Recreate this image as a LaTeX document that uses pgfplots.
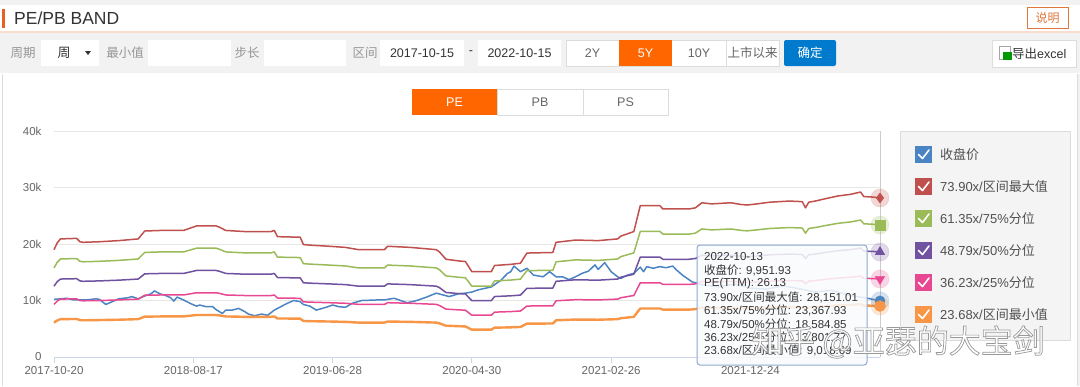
\documentclass[border=0pt]{standalone}
\usepackage{fontspec}
\setmainfont{Liberation Sans}
\newfontfamily\cjk{Noto Sans CJK SC}
\usepackage{pgfplots}
\pgfplotsset{compat=1.18}
\usepackage{pgfplotstable}
\definecolor{cBlue}{RGB}{74,132,194}
\definecolor{cRed}{RGB}{192,80,77}
\definecolor{cGreen}{RGB}{155,187,89}
\definecolor{cPurple}{RGB}{112,82,160}
\definecolor{cPink}{RGB}{232,72,145}
\definecolor{cOrange}{RGB}{247,150,70}
\definecolor{gridc}{RGB}{230,230,230}
\definecolor{axisc}{RGB}{204,214,235}
\definecolor{txt}{RGB}{51,51,51}
\definecolor{legtxt}{RGB}{80,80,80}
\definecolor{lbl}{RGB}{102,102,102}
\definecolor{uilbl}{RGB}{150,150,150}
\definecolor{uiorange}{RGB}{255,102,0}
\definecolor{uiblue}{RGB}{0,122,204}
\definecolor{uigray}{RGB}{242,242,242}
\definecolor{uiborder}{RGB}{220,220,220}
\definecolor{barorange}{RGB}{232,96,36}
\definecolor{explain}{RGB}{224,120,60}
\definecolor{headline}{RGB}{250,222,204}
\definecolor{leggray}{RGB}{244,244,244}
\definecolor{tipborder}{RGB}{140,170,210}
\newcommand{\fs}[1]{\fontsize{#1}{#1}\selectfont}
\newcommand{\legitem}[3]{%
  \fill[#2] (915,#1-8.5) rectangle (932,#1+8.5);
  \draw[white, line width=1.6pt, line cap=round, line join=round] (918.5,#1) -- (922.5,#1+4) -- (929,#1-4.5);
  \node[anchor=west, text=legtxt, font=\fs{13}, inner sep=0] at (940,#1) {#3};
}
\pgfplotstableread{
w M B75 B50 B25 Bmin
0 19.00 15.77 12.54 9.32 6.09
1 20.20 16.77 13.34 9.90 6.47
2 20.90 17.35 13.80 10.25 6.70
7 21.00 17.43 13.86 10.30 6.73
8 20.40 16.94 13.47 10.00 6.54
9 20.30 16.85 13.40 9.95 6.50
14 20.40 16.94 13.47 10.00 6.54
20 20.60 17.10 13.60 10.10 6.60
26 20.90 17.35 13.80 10.25 6.70
27 21.60 17.93 14.26 10.59 6.92
28 22.30 18.51 14.72 10.93 7.14
33 22.40 18.60 14.79 10.98 7.18
40 22.40 18.60 14.79 10.98 7.18
42 22.80 18.93 15.05 11.18 7.31
44 23.20 19.26 15.32 11.37 7.43
50 23.20 19.26 15.32 11.37 7.43
51 23.00 19.09 15.18 11.28 7.37
53 22.40 18.60 14.79 10.98 7.18
59 22.20 18.43 14.66 10.88 7.11
67 22.20 18.43 14.66 10.88 7.11
68 22.40 18.60 14.79 10.98 7.18
69 21.30 17.68 14.06 10.44 6.82
76 21.20 17.60 14.00 10.39 6.79
77 19.90 16.52 13.14 9.76 6.38
79 19.80 16.44 13.07 9.71 6.34
85 19.60 16.27 12.94 9.61 6.28
90 19.40 16.11 12.81 9.51 6.22
94 19.00 15.77 12.54 9.32 6.09
102 19.00 15.77 12.54 9.32 6.09
103 19.60 16.27 12.94 9.61 6.28
110 19.40 16.11 12.81 9.51 6.22
118 19.00 15.77 12.54 9.32 6.09
119 18.60 15.44 12.28 9.12 5.96
121 17.30 14.36 11.42 8.48 5.54
125 17.00 14.11 11.22 8.34 5.45
127 16.90 14.03 11.16 8.29 5.41
129 15.10 12.54 9.97 7.40 4.84
135 15.10 12.54 9.97 7.40 4.84
136 16.20 13.45 10.70 7.94 5.19
141 16.40 13.62 10.83 8.04 5.25
144 16.60 13.78 10.96 8.14 5.32
145 17.50 14.53 11.55 8.58 5.61
146 18.40 15.28 12.15 9.02 5.90
154 18.50 15.36 12.21 9.07 5.93
155 20.30 16.85 13.40 9.95 6.50
161 20.70 17.19 13.67 10.15 6.63
168 20.60 17.10 13.60 10.10 6.60
174 20.90 17.35 13.80 10.25 6.70
175 21.40 17.77 14.13 10.49 6.86
178 22.00 18.26 14.52 10.79 7.05
179 22.20 18.43 14.66 10.88 7.11
181 26.80 22.25 17.69 13.14 8.59
187 26.80 22.25 17.69 13.14 8.59
188 26.20 21.75 17.30 12.85 8.39
196 26.20 21.75 17.30 12.85 8.39
198 26.40 21.92 17.43 12.94 8.46
200 27.30 22.66 18.02 13.39 8.75
203 27.10 22.50 17.89 13.29 8.68
206 27.20 22.58 17.96 13.34 8.71
209 27.30 22.66 18.02 13.39 8.75
212 27.00 22.42 17.83 13.24 8.65
214 26.90 22.33 17.76 13.19 8.62
217 27.10 22.50 17.89 13.29 8.68
221 27.40 22.75 18.09 13.43 8.78
224 27.50 22.83 18.16 13.48 8.81
227 27.60 22.91 18.22 13.53 8.84
231 27.50 22.83 18.16 13.48 8.81
232 26.40 21.92 17.43 12.94 8.46
233 27.40 22.75 18.09 13.43 8.78
235 27.60 22.91 18.22 13.53 8.84
238 28.00 23.25 18.49 13.73 8.97
242 28.50 23.66 18.82 13.97 9.13
246 28.80 23.91 19.01 14.12 9.23
249 29.20 24.24 19.28 14.32 9.36
250 28.40 23.58 18.75 13.92 9.10
253 28.30 23.49 18.68 13.88 9.07
255 28.15 23.37 18.58 13.80 9.02
}\bands
\pgfplotstableread{
w P
0 10.2
2 10.3
4 10.4
6 10.1
10 10.1
13 10.3
14 10.2
16 9.3
18 9.8
20 10.3
23 10.5
24 10.7
26 10.3
28 10.8
30 11.2
31 11.7
33 11.1
34 11.0
36 10.5
37 9.9
38 10.6
40 10.1
42 9.5
44 9.0
45 9.2
47 8.9
49 8.9
50 8.4
52 7.7
53 8.3
55 8.3
57 8.6
59 8.0
60 7.6
62 7.3
64 7.6
66 7.4
68 8.3
70 8.9
72 9.5
74 10.0
76 9.8
77 9.3
79 9.0
81 8.3
84 8.8
86 9.2
88 8.9
90 8.8
92 9.5
95 10.0
100 10.1
102 10.1
105 10.4
109 9.6
112 10.0
115 10.6
118 11.3
120 11.0
122 10.7
125 11.2
127 11.3
129 11.5
131 11.9
135 12.4
138 13.6
140 14.8
141 15.1
142 16.1
144 15.1
146 15.7
148 14.5
151 14.2
153 15.1
155 14.2
157 14.2
159 13.7
161 14.2
163 14.8
165 15.2
167 16.3
168 15.5
170 16.7
172 15.1
174 14.2
175 13.9
177 14.5
179 14.8
181 15.9
182 15.1
183 16.0
185 15.7
187 16.0
189 15.8
191 16.1
192 15.5
194 14.5
196 13.7
197 13.3
200 12.8
205 12.4
210 12.9
215 12.2
220 12.0
225 12.6
230 12.1
235 11.5
240 11.8
245 11.0
249 10.6
252 10.3
255 9.95
}\closetab
\begin{document}
\begin{tikzpicture}
\begin{scope}[x=1pt,y=-1pt]
\useasboundingbox (0,0) rectangle (1080,386);
\fill[white] (0,0) rectangle (1080,386);
% header
\fill[uigray] (0,0) rectangle (1080,5);
\fill[barorange] (2,9) rectangle (5,27.5);
\node[anchor=west, text=txt, font=\fs{17.5}, inner sep=0] at (14,18) {PE/PB BAND};
\draw[explain, fill=white] (1027,7) rectangle (1068,28);
\node[text=explain, font=\cjk\fs{12}] at (1047.5,17.5) {说明};
\fill[headline] (0,31) rectangle (1080,33);
% toolbar
\fill[uigray] (0,33) rectangle (1080,73);
\node[text=uilbl, font=\cjk\fs{12.5}] at (23,53) {周期};
\fill[white] (41,40) rectangle (99,66);
\node[text=txt, font=\cjk\fs{13}] at (64,53) {周};
\fill[txt] (85,51) -- (91,51) -- (88,55) -- cycle;
\node[text=uilbl, font=\cjk\fs{12.5}] at (125,53) {最小值};
\fill[white] (148,40) rectangle (231,66);
\node[text=uilbl, font=\cjk\fs{12.5}] at (247,53) {步长};
\fill[white] (264,40) rectangle (346,66);
\node[text=uilbl, font=\cjk\fs{12.5}] at (365,53) {区间};
\fill[white] (380,40) rectangle (464,66);
\node[text=txt, font=\fs{12.5}] at (422,53) {2017-10-15};
\node[text=txt, font=\fs{12.5}] at (471,53) {-};
\fill[white] (478,40) rectangle (561,66);
\node[text=txt, font=\fs{12.5}] at (519.5,53) {2022-10-15};
\draw[uiborder, fill=white] (566,40) rectangle (779,66);
\fill[uiorange] (619,40) rectangle (672,66);
\draw[uiborder] (726,40) -- (726,66);
\node[text=lbl, font=\fs{12.5}] at (592.5,53) {2Y};
\node[text=white, font=\fs{12.5}] at (645.5,53) {5Y};
\node[text=lbl, font=\fs{12.5}] at (699,53) {10Y};
\node[text=lbl, font=\cjk\fs{12.5}] at (752.5,53) {上市以来};
\fill[uiblue, rounded corners=2pt] (784,40) rectangle (836,66);
\node[text=white, font=\cjk\fs{12.5}] at (810,53) {确定};
\draw[uiborder, fill=white] (992,40) rectangle (1076,67);
\draw[gray!70, fill=white] (999,46) rectangle (1010,59);
\fill[green!60!black] (1003,52) rectangle (1012,60);
\node[anchor=west, text=txt, inner sep=0] at (1012,53.5) {{\cjk\fs{12.5}导出}{\fs{12.5}excel}};
% chart area
\fill[white] (3,74) rectangle (1077,386);
\draw[uiborder] (2.5,74) -- (2.5,386);
\draw[uiborder] (1077,74) -- (1077,386);
\fill[uigray] (1077.5,74) rectangle (1080,386);
% tabs
\draw[uiborder, fill=white] (497,89) rectangle (668,115);
\draw[uiborder] (583,89) -- (583,115);
\fill[uiorange] (412,89) rectangle (497,115);
\node[text=white, font=\fs{12.5}] at (454.5,102) {PE};
\node[text=lbl, font=\fs{12.5}] at (540,102) {PB};
\node[text=lbl, font=\fs{12.5}] at (625.5,102) {PS};
% legend box
\draw[uiborder, fill=leggray] (900,131) rectangle (1070,340);
\legitem{154.5}{cBlue}{{\cjk 收盘价}}
\legitem{186.5}{cRed}{73.90x/{\cjk 区间最大值}}
\legitem{218.5}{cGreen}{61.35x/75\%{\cjk 分位}}
\legitem{250.5}{cPurple}{48.79x/50\%{\cjk 分位}}
\legitem{282.5}{cPink}{36.23x/25\%{\cjk 分位}}
\legitem{314.5}{cOrange}{23.68x/{\cjk 区间最小值}}
\end{scope}

\begin{axis}[
  at={(54pt,-357pt)}, anchor=south west,
  scale only axis, width=826pt, height=226pt,
  xmin=0, xmax=255, ymin=0, ymax=40,
  enlargelimits=false,
  axis line style={draw=none},
  tick pos=left, tick align=outside,
  xtick={0,43,86,129,172,215},
  xticklabels={2017-10-20,2018-08-17,2019-06-28,2020-04-30,2021-02-26,2021-12-24},
  ytick={0,10,20,30,40},
  yticklabels={0,10k,20k,30k,40k},
  ymajorgrids, grid style={gridc, line width=1pt},
  major tick length=6pt,
  xtick style={axisc, line width=1pt},
  ytick style={draw=none},
  ticklabel style={font=\fs{11.5}, text=lbl},
  yticklabel style={xshift=-3pt},
  clip=false,
]
\draw[axisc, line width=1pt] (axis cs:0,0) -- (axis cs:255,0);
\draw[gray!40, line width=0.8pt] (axis cs:255,0) -- (axis cs:255,40);
\addplot[cBlue, line width=1.5pt, line join=round] table[x=w,y=P]{\closetab};
\addplot[cRed, line width=1.5pt, line join=round] table[x=w,y=M]{\bands};
\addplot[cGreen, line width=1.5pt, line join=round] table[x=w,y=B75]{\bands};
\addplot[cPurple, line width=1.5pt, line join=round] table[x=w,y=B50]{\bands};
\addplot[cPink, line width=1.5pt, line join=round] table[x=w,y=B25]{\bands};
\addplot[cOrange, line width=2.4pt, line join=round] table[x=w,y=Bmin]{\bands};
% end markers with halos
\addplot[only marks, mark=*, mark size=9pt, cRed, opacity=0.22] coordinates {(255,28.15)};
\addplot[only marks, mark=*, mark size=9pt, cGreen, opacity=0.22] coordinates {(255,23.37)};
\addplot[only marks, mark=*, mark size=9pt, cPurple, opacity=0.22] coordinates {(255,18.58)};
\addplot[only marks, mark=*, mark size=9pt, cPink, opacity=0.22] coordinates {(255,13.80)};
\addplot[only marks, mark=*, mark size=9pt, cBlue, opacity=0.22] coordinates {(255,9.95)};
\addplot[only marks, mark=*, mark size=9pt, cOrange, opacity=0.22] coordinates {(255,9.02)};
\addplot[only marks, mark=diamond*, mark size=5pt, cRed] coordinates {(255,28.15)};
\addplot[only marks, mark=square*, mark size=5pt, cGreen] coordinates {(255,23.37)};
\addplot[only marks, mark=triangle*, mark size=5.5pt, cPurple] coordinates {(255,18.58)};
\addplot[only marks, mark=triangle*, mark size=5.5pt, cPink, mark options={rotate=180}] coordinates {(255,13.80)};
\addplot[only marks, mark=*, mark size=5pt, cBlue] coordinates {(255,9.95)};
\addplot[only marks, mark=*, mark size=5.5pt, cOrange] coordinates {(255,9.02)};
\end{axis}

\begin{scope}[x=1pt,y=-1pt]
% tooltip
\draw[tipborder, line width=1pt, rounded corners=3pt, fill={rgb,255:red,250;green,251;blue,253}, fill opacity=0.86] (697,245) rectangle (867,365);
\begin{scope}[every node/.style={anchor=west, text=txt, font=\fs{11.5}, inner sep=0}]
\node at (704,257) {2022-10-13};
\node at (704,270.4) {{\cjk 收盘价}: 9,951.93};
\node at (704,283.8) {PE(TTM): 26.13};
\node at (704,297.2) {73.90x/{\cjk 区间最大值}: 28,151.01};
\node at (704,310.6) {61.35x/75\%{\cjk 分位}: 23,367.93};
\node at (704,324) {48.79x/50\%{\cjk 分位}: 18,584.85};
\node at (704,337.4) {36.23x/25\%{\cjk 分位}: 13,801.77};
\node at (704,350.8) {23.68x/{\cjk 区间最小值}: 9,018.69};
\end{scope}
% watermark: white letters with a grey outline (fill+stroke text render mode)
\node[text=white, font=\cjk\fs{32}, inner sep=0] at (898,342)
  {\special{pdf:literal 2 Tr 0.6 0.6 0.6 RG 0.7 w}知乎 @亚瑟的大宝剑\special{pdf:literal 0 Tr}};
\end{scope}
\end{tikzpicture}
\end{document}
